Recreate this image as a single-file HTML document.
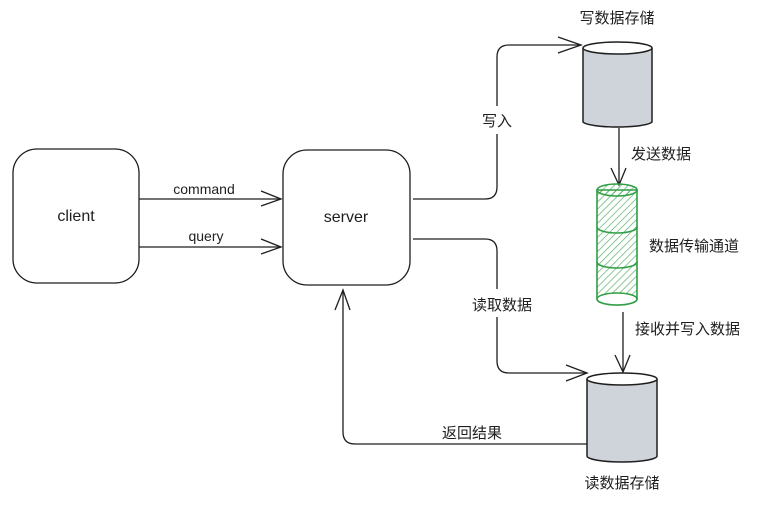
<!DOCTYPE html>
<html><head><meta charset="utf-8"><style>
body{margin:0;background:#fff;width:784px;height:518px;overflow:hidden}
text{font-family:"Liberation Sans","Noto Sans CJK SC",sans-serif;fill:#1e1e1e}
</style></head><body>
<svg width="784" height="518" viewBox="0 0 784 518" xmlns="http://www.w3.org/2000/svg">
<defs>
<pattern id="h" width="5" height="5" patternUnits="userSpaceOnUse" patternTransform="rotate(45)">
<line x1="0" y1="0" x2="0" y2="5" stroke="#2f9e44" stroke-width="1.4" opacity="0.8"/>
</pattern>
</defs>
<g fill="none" stroke="#1e1e1e" stroke-width="1.3">
<rect x="13" y="149" width="126" height="134" rx="24"/>
<rect x="283" y="150" width="127" height="135" rx="24"/>
<line x1="139" y1="199" x2="281" y2="199"/>
<path d="M261 191 L281 199 L261 206"/>
<line x1="139" y1="247" x2="281" y2="247"/>
<path d="M261 239 L281 247 L261 254"/>
<path d="M413 199 H485 Q497 199 497 187 V57 Q497 45 509 45 H581"/>
<path d="M558 37 L581 45 L558 53"/>
<path d="M413 239 H485 Q497 239 497 251 V361 Q497 373 509 373 H587"/>
<path d="M566 365 L587 373 L566 381"/>
<path d="M587 444 H355 Q343 444 343 432 V291"/>
<path d="M335 310 L343 290 L350 310"/>
<line x1="619" y1="128" x2="619" y2="184"/>
<path d="M611 168 L619 185 L626 168"/>
<line x1="623" y1="312" x2="623" y2="371"/>
<path d="M615 355 L623 372 L630 355"/>
</g>
<rect x="476" y="106" width="42" height="28" fill="#fff"/>
<rect x="466" y="289" width="72" height="28" fill="#fff"/>
<path d="M583 48 V122 A35 6 0 0 0 652 122 V48" fill="#ced4da" stroke="#1e1e1e" stroke-width="1.5"/>
<ellipse cx="617.5" cy="48" rx="34.5" ry="6" fill="#fff" stroke="#1e1e1e" stroke-width="1.5"/>
<path d="M597 190 V299 A20 6 0 0 0 637 299 V190 Z" fill="url(#h)" stroke="#2f9e44" stroke-width="1.6"/>
<ellipse cx="617" cy="190" rx="20" ry="6" fill="url(#h)" stroke="#2f9e44" stroke-width="1.6"/>
<path d="M597 227 A20 6 0 0 0 637 227 M597 262 A20 6 0 0 0 637 262" fill="none" stroke="#2f9e44" stroke-width="1.6"/>
<ellipse cx="617" cy="299" rx="20" ry="6" fill="#fff" stroke="#2f9e44" stroke-width="1.6"/>
<path d="M587 379 V456 A35 6 0 0 0 657 456 V379" fill="#ced4da" stroke="#1e1e1e" stroke-width="1.5"/>
<ellipse cx="622" cy="379" rx="35" ry="6" fill="#fff" stroke="#1e1e1e" stroke-width="1.5"/>
<g font-size="15">
<text x="76" y="221" text-anchor="middle" font-size="16">client</text>
<text x="346" y="222" text-anchor="middle" font-size="16">server</text>
<text x="204" y="194" text-anchor="middle" font-size="14">command</text>
<text x="206" y="241" text-anchor="middle" font-size="14">query</text>
<text x="497" y="126" text-anchor="middle">写入</text>
<text x="502" y="310" text-anchor="middle">读取数据</text>
<text x="472" y="438" text-anchor="middle">返回结果</text>
<text x="617" y="23" text-anchor="middle">写数据存储</text>
<text x="631" y="159">发送数据</text>
<text x="649" y="251">数据传输通道</text>
<text x="635" y="334">接收并写入数据</text>
<text x="622" y="488" text-anchor="middle">读数据存储</text>
</g>
</svg>
</body></html>
